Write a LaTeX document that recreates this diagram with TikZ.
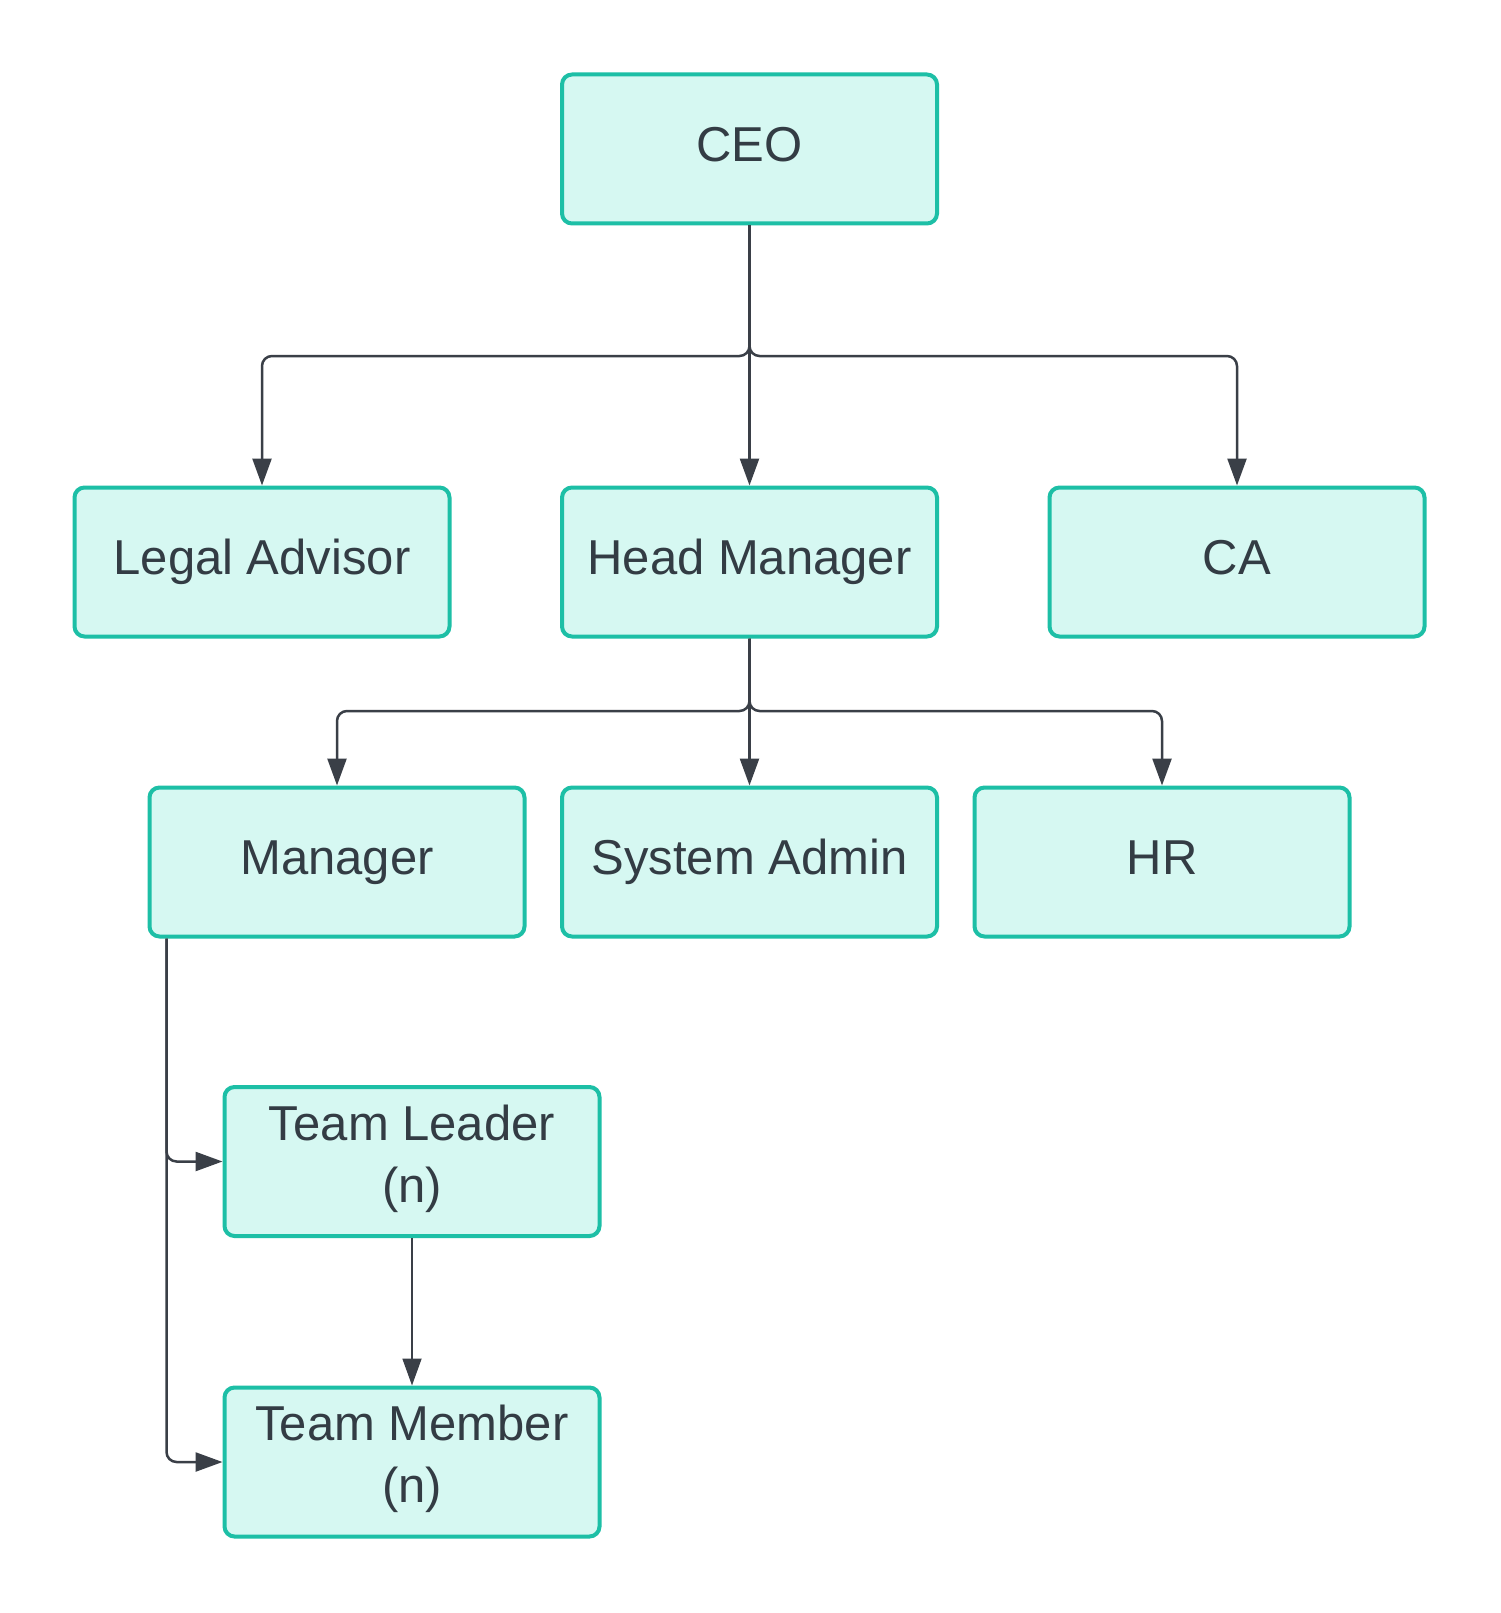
\documentclass[tikz,border=0pt]{standalone}
\usepackage{fontspec}
\setmainfont{Liberation Sans}
\usetikzlibrary{arrows.meta,calc}
\definecolor{boxfill}{HTML}{D6F8F2}
\definecolor{boxline}{HTML}{1DBFA6}
\definecolor{linecol}{HTML}{3A3F47}
\definecolor{textcol}{HTML}{333C44}
\tikzset{
  orgbox/.style={draw=boxline, fill=boxfill, line width=4pt, rounded corners=10pt,
    minimum width=375pt, minimum height=149pt, inner sep=0pt, align=center,
    text=textcol, font=\fontsize{49pt}{62pt}\selectfont},
  oneline/.style={orgbox, text height=35pt, text depth=10pt},
  twoline/.style={orgbox, text depth=16.5pt},
  conn/.style={draw=linecol, line width=2.5pt, rounded corners=10pt,
    -{Triangle[length=27pt,width=19pt]}},
}
\begin{document}
\begin{tikzpicture}[x=1pt,y=-1pt]
\useasboundingbox[fill=white] (0,0) rectangle (1500,1613);
\node[oneline] (ceo) at (749.5,149) {CEO};
\node[oneline] (legal) at (262,562) {Legal Advisor};
\node[oneline] (head) at (749.5,562) {Head Manager};
\node[oneline] (ca) at (1237,562) {CA};
\node[oneline] (mgr) at (337,862) {Manager};
\node[oneline] (sys) at (749.5,862) {System Admin};
\node[oneline] (hr) at (1162,862) {HR};
\node[twoline] (tl) at (412,1161.5) {Team Leader\\(n)};
\node[twoline] (tm) at (412,1462) {Team Member\\(n)};
\coordinate (j1) at (749.5,356);
\coordinate (j2) at (749.5,711);
\coordinate (ms) at ($(mgr.south west)+(19,0)$);
% CEO level
\draw[conn] (ceo.south) -- (head.north);
\draw[conn] (ceo.south) -- (j1) -| (legal.north);
\draw[conn] (ceo.south) -- (j1) -| (ca.north);
% Head manager level
\draw[conn] (head.south) -- (sys.north);
\draw[conn] (head.south) -- (j2) -| (mgr.north);
\draw[conn] (head.south) -- (j2) -| (hr.north);
% Manager to teams
\draw[conn] (ms) |- (tl.west);
\draw[conn] (ms) |- (tm.west);
\draw[conn, line width=1.8pt] (tl.south) -- (tm.north);
\end{tikzpicture}
\end{document}
